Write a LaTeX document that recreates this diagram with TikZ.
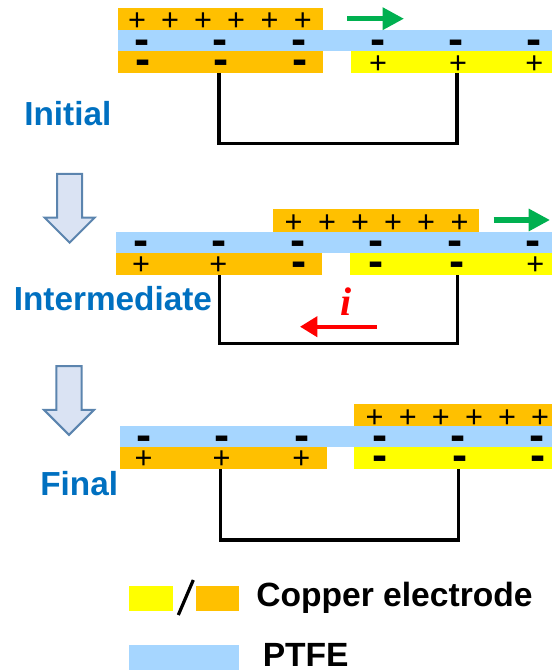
\documentclass[tikz,border=0pt]{standalone}
\usepackage{fontspec}
\setmainfont{Liberation Sans}
\newfontfamily\currentfont{Liberation Serif}
\usetikzlibrary{arrows.meta}
\usetikzlibrary{shapes.arrows}
\definecolor{copperA}{HTML}{FFC000}
\definecolor{copperB}{HTML}{FFFF00}
\definecolor{ptfeblue}{HTML}{A6D6FF}
\definecolor{labelblue}{HTML}{0070C0}
\definecolor{motiongreen}{HTML}{00B050}
\definecolor{stepfill}{HTML}{DAE3F3}
\definecolor{stepline}{HTML}{5B84AE}
\tikzstyle{layer}=[anchor=north west, inner sep=0pt, outer sep=0pt]
\tikzstyle{orange} = [layer, fill=copperA]
\tikzstyle{lemon} = [layer, fill=copperB]
\tikzstyle{ptfe} = [layer, fill=ptfeblue]
\tikzstyle{plusq} = [anchor=base, inner sep=0pt, yshift=-8pt,
  font=\fontsize{23}{23}\selectfont]
\tikzstyle{minusq} = [anchor=base, inner sep=0pt, yshift=-9pt,
  font=\bfseries\fontsize{34}{34}\selectfont]
\tikzstyle{stage} = [anchor=base west, inner sep=0pt, text=labelblue,
  font=\bfseries\fontsize{25}{25}\selectfont]
\tikzstyle{legend} = [anchor=base west, inner sep=0pt,
  font=\bfseries\fontsize{25.2}{25.2}\selectfont]
\tikzstyle{stepdown} = [draw=stepline, fill=stepfill, line width=1.5pt,
  single arrow, rotate=-90, anchor=tip, inner sep=0pt, text height=17.3pt,
  text depth=0pt, minimum width=36pt, minimum height=51.6pt,
  single arrow head extend=9.4pt]
\tikzstyle{wire} = [draw, line width=2.4pt, line join=miter]
\tikzstyle{motion} = [draw=motiongreen, line width=3.8pt,
  -{Triangle[length=16pt,width=16pt]}]
\tikzstyle{current} = [draw=red, line width=3pt,
  -{Triangle[length=13pt,width=15pt]}]
% layer strip: name, style, left, top, right, bottom
\newcommand{\strip}[6]{\path (#3,#4) node (#1) [#2,
  minimum width={(#5-#3)*0.75pt}, minimum height={(#6-#4)*0.75pt}] {};}
\newcommand{\plusq}[3]{\path (#2,#3) node (#1) [plusq] {+};}
\newcommand{\minusq}[3]{\path (#2,#3) node (#1) [minusq] {-};}

\begin{document}
\begin{tikzpicture}[x=0.75pt,y=-0.75pt]
    \useasboundingbox (0,0) rectangle (552,670);

    % Initial
    \strip{top1}{orange}{117.5}{8}{323}{30}
    \strip{film1}{ptfe}{117.5}{30}{552}{51.5}
    \strip{left1}{orange}{117.5}{51.5}{323}{73}
    \strip{right1}{lemon}{351}{51.5}{552}{73}
    \foreach \n/\x in {1/137,2/170,3/203,4/236,5/269.5,6/302.7}
      \plusq{ta\n}{\x}{20};
    \foreach \n/\x in {1/141.7,2/220.3,3/299.3,4/378,5/456,6/534.3}
      \minusq{fa\n}{\x}{42.3};
    \minusq{ba1}{142.7}{63}
    \minusq{ba2}{221}{63}
    \minusq{ba3}{300}{63}
    \plusq{ba4}{378}{63}
    \plusq{ba5}{458}{63}
    \plusq{ba6}{534.3}{63}
    \coordinate (w1a) at (219,73);
    \coordinate (w1b) at (457,73);
    \path [wire] (w1a) -- ++(0,70.3) -| (w1b);
    \coordinate (m1a) at (347,18.7);
    \coordinate (m1b) at (404,18.7);
    \path [motion] (m1a) -- (m1b);
    \node (lab1) [stage] at (24,126) {Initial};

    \node (step1) [stepdown] at (69.6,244) {};

    % Intermediate
    \strip{top2}{orange}{273}{209.3}{479}{231.7}
    \strip{film2}{ptfe}{116}{231.7}{552}{252.7}
    \strip{left2}{orange}{116}{252.7}{322}{275}
    \strip{right2}{lemon}{350}{252.7}{552}{275}
    \foreach \n/\x in {1/293.5,2/327,3/360,4/393,5/426,6/459.5}
      \plusq{tb\n}{\x}{221.7};
    \foreach \n/\x in {1/141,2/219,3/298,4/376.4,5/455,6/533.2}
      \minusq{fb\n}{\x}{243.3};
    \plusq{bb1}{141}{264.3}
    \plusq{bb2}{218.3}{264.3}
    \minusq{bb3}{298.6}{264.3}
    \minusq{bb4}{375.7}{264.3}
    \minusq{bb5}{456.7}{264.3}
    \plusq{bb6}{535.4}{264.3}
    \coordinate (w2a) at (219.4,275);
    \coordinate (w2b) at (457.7,275);
    \path [wire] (w2a) -- ++(0,68.3) -| (w2b);
    \coordinate (m2a) at (493.5,220);
    \coordinate (m2b) at (550,220);
    \path [motion] (m2a) -- (m2b);
    \coordinate (c2a) at (376.8,326.7);
    \coordinate (c2b) at (300,326.7);
    \path [current] (c2a) -- (c2b);
    \node (cur2) [text=red, inner sep=0pt, anchor=base,
      font=\currentfont\bfseries\itshape\fontsize{30}{30}\selectfont]
      at (346,315) {i};
    \node (lab2) [stage] at (13.5,310) {Intermediate};

    \node (step2) [stepdown] at (69,436.3) {};

    % Final
    \strip{top3}{orange}{354}{403.5}{552}{425.7}
    \strip{film3}{ptfe}{119.7}{425.7}{552}{446.7}
    \strip{left3}{orange}{119.7}{446.7}{326.8}{469}
    \strip{right3}{lemon}{354}{446.7}{552}{469}
    \foreach \n/\x in {1/374.6,2/407.7,3/440.8,4/474,5/507,6/540}
      \plusq{tc\n}{\x}{416.6};
    \foreach \n/\x in {1/144.4,2/222.5,3/301.8,4/380,5/458.5,6/537}
      \minusq{fc\n}{\x}{438};
    \plusq{bc1}{143.7}{458.3}
    \plusq{bc2}{221.5}{458.3}
    \plusq{bc3}{301.4}{458.3}
    \minusq{bc4}{380}{458.3}
    \minusq{bc5}{459.9}{458.3}
    \minusq{bc6}{537.7}{458.3}
    \coordinate (w3a) at (220.8,469);
    \coordinate (w3b) at (458.8,469);
    \path [wire] (w3a) -- ++(0,71) -| (w3b);
    \node (lab3) [stage] at (40,495) {Final};

    % Legend
    \strip{keyA}{lemon}{129.3}{585.7}{173}{611}
    \strip{keyB}{orange}{195.7}{585.7}{239}{611}
    \strip{keyC}{ptfe}{129.3}{645}{239}{670}
    \coordinate (sl1) at (178.3,615);
    \coordinate (sl2) at (193.3,580);
    \draw [line width=2.4pt] (sl1) -- (sl2);
    \node (txtA) [legend] at (256,606.7) {Copper electrode};
    \node (txtB) [legend] at (262.5,666.5) {PTFE};
\end{tikzpicture}
\end{document}
